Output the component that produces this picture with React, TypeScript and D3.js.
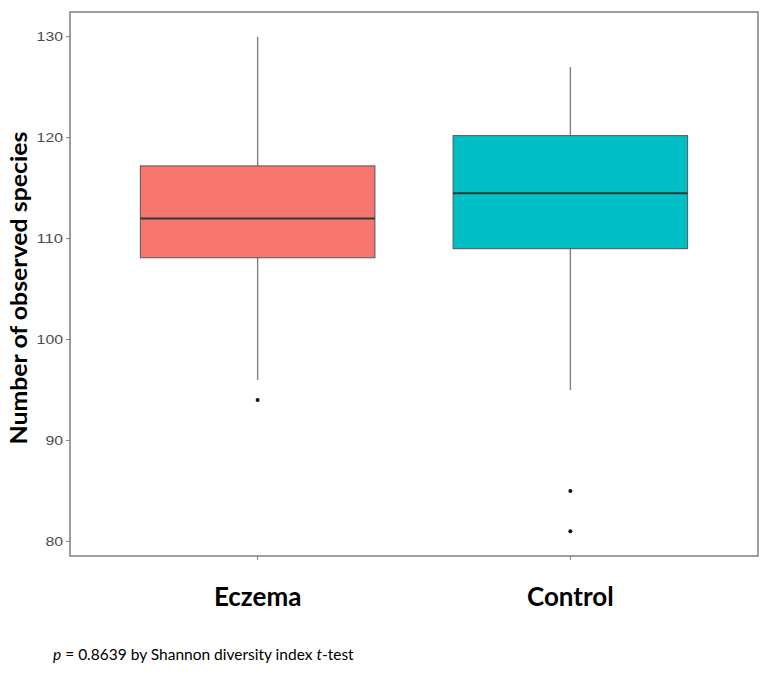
import React from "react";
import * as d3 from "d3";

const categories = ["Eczema", "Control"];
const whiskerLow = [96, 95];
const q1 = [108.1, 109.0];
const medians = [112.0, 114.5];
const q3 = [117.2, 120.2];
const whiskerHigh = [130, 127];
const outliers = [[94], [85, 81]];
const fills = ["#F8766D", "#00BFC4"];
const yTicks = [80, 90, 100, 110, 120, 130];

const W = 772;
const H = 682;
const left = 70;
const right = 758;
const top = 12;
const bottom = 556;

export default function App() {
  const y = d3.scaleLinear().domain([78.55, 132.45]).range([bottom, top]);
  const x = d3.scalePoint<string>().domain(categories).range([left, right]).padding(0.6);
  const step = x.step();
  const bw = step * 0.75;
  const axisGray = "#7f7f7f";

  return (
    <svg width={W} height={H} style={{ position: "absolute", left: 0, top: 0, background: "#fff" }}>
      {yTicks.map((t) => (
        <g key={t}>
          <line x1={left - 4} x2={left} y1={y(t)} y2={y(t)} stroke={axisGray} strokeWidth={1} />
          <text
            x={63}
            y={y(t)}
            dy="0.36em"
            textAnchor="end"
            fontFamily="'Liberation Sans', Arial, sans-serif"
            fontSize={13}
            fill="#4d4d4d"
            textLength={String(t).length * 8.8}
            lengthAdjust="spacingAndGlyphs"
          >
            {t}
          </text>
        </g>
      ))}
      {categories.map((c) => (
        <line key={c} x1={x(c)} x2={x(c)} y1={bottom} y2={bottom + 4} stroke={axisGray} strokeWidth={1} />
      ))}
      {categories.map((c, i) => {
        const cx = x(c) as number;
        return (
          <g key={c}>
            <line x1={cx} x2={cx} y1={y(whiskerHigh[i])} y2={y(q3[i])} stroke="#808080" strokeWidth={1.4} />
            <line x1={cx} x2={cx} y1={y(q1[i])} y2={y(whiskerLow[i])} stroke="#808080" strokeWidth={1.4} />
            <rect
              x={cx - bw / 2}
              y={y(q3[i])}
              width={bw}
              height={y(q1[i]) - y(q3[i])}
              fill={fills[i]}
              stroke="#555"
              strokeWidth={1}
            />
            <line x1={cx - bw / 2} x2={cx + bw / 2} y1={y(medians[i])} y2={y(medians[i])} stroke="#2b3b3b" strokeWidth={2} />
            {outliers[i].map((o, j) => (
              <circle key={j} cx={cx} cy={y(o)} r={2} fill="#111" />
            ))}
          </g>
        );
      })}
      <rect x={left} y={top} width={right - left} height={bottom - top} fill="none" stroke={axisGray} strokeWidth={1.5} />
      {categories.map((c) => (
        <text
          key={c}
          x={x(c)}
          y={606}
          textAnchor="middle"
          fontFamily="Lato, 'Open Sans', sans-serif"
          fontWeight="bold"
          fontSize={26}
          fill="#000"
        >
          {c}
        </text>
      ))}
      <text
        transform="translate(27,288) rotate(-90)"
        textAnchor="middle"
        fontFamily="Lato, 'Open Sans', sans-serif"
        fontWeight="bold"
        fontSize={23}
        fill="#000"
        textLength={313}
        lengthAdjust="spacingAndGlyphs"
      >
        Number of observed species
      </text>
      <text x={53} y={660} fontFamily="Lato, 'Open Sans', sans-serif" fontSize={15.5} fill="#000">
        <tspan fontStyle="italic">p</tspan> = 0.8639 by Shannon diversity index <tspan fontStyle="italic">t</tspan>-test
      </text>
    </svg>
  );
}
